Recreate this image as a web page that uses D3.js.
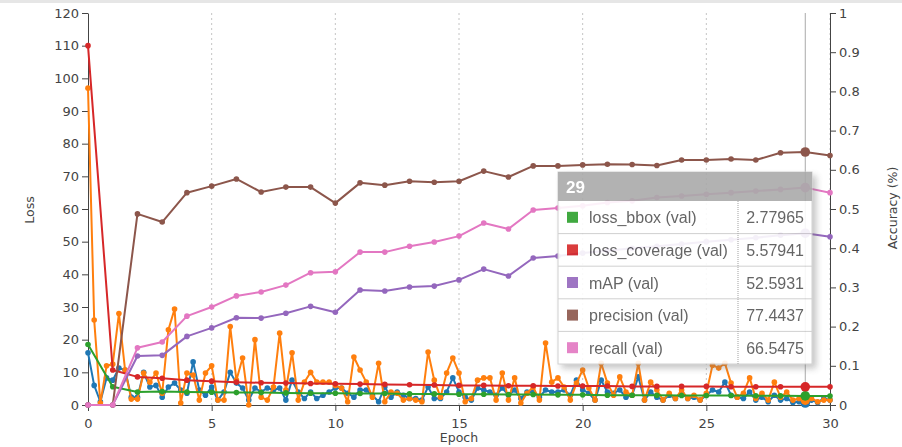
<!DOCTYPE html>
<html>
<head>
<meta charset="utf-8">
<script src="https://cdn.jsdelivr.net/npm/d3@7"></script>
<style>
  body { margin: 0; background: #fff; }
  svg { display: block; }
  .axis text { font-family: "DejaVu Sans", sans-serif; font-size: 13px; fill: #444; }
  .axis path, .axis line { stroke: #444; }
</style>
</head>
<body>
<svg id="chart" width="902" height="447"></svg>
<script>
// Validation epochs (one value per epoch)
const valEpochs = [0,1,2,3,4,5,6,7,8,9,10,11,12,13,14,15,16,17,18,19,20,21,22,23,24,25,26,27,28,29,30];

// Training losses are logged four times per epoch
const trainStep = 0.25;

const lossBboxTrain = [
  16, 6, 1, 8.3, 7.6, 11.3, 10.7, 2.4, 2.4, 10,
  5.5, 6, 2.4, 5.5, 6.7, 4.6, 3.6, 13.2, 4.6, 3,
  5.5, 1.5, 4, 10, 6.7, 5.2, 1.5, 5.2, 4, 5.2,
  4.6, 5.2, 1.5, 7.6, 4, 2, 4, 2, 3, 4,
  5.2, 5.2, 3.6, 2.4, 4.6, 4.6, 3, 1, 5.5, 2.4,
  4, 3, 2, 2, 1.5, 5.5, 2, 2, 4, 8.3,
  4, 2.4, 1.5, 5.2, 4.6, 4, 3, 5.2, 3, 4.6,
  2, 4, 4, 2.4, 4.6, 4, 4, 4.6, 3, 7.6,
  4.6, 3.6, 1.5, 7.6, 4, 3.6, 4.6, 2.4, 3, 8.6,
  1.5, 4, 2.4, 1.5, 3, 2, 3.6, 2, 2.4, 1.5,
  3, 4.6, 4, 7, 3, 2.4, 2, 4, 1.5, 2.4,
  1, 3, 1.5, 2, 0.8, 1, 0.6, 1.5, 0.8, 2,
  1.5
];

const lossCoverageTrain = [
  97, 26, 0.6, 12, 12.5, 28, 10.7, 1.8, 1.8, 9.8,
  7, 9.8, 3.6, 23, 29.4, 0.6, 9.8, 9.2, 1.5, 9.8,
  12, 1.5, 1.5, 24, 7.6, 14.4, 0, 20, 2.4, 1.5,
  5.5, 22, 4.6, 16, 1.5, 7, 10, 7, 7, 7,
  6, 5.2, 1, 14.7, 10.7, 7, 2.4, 12.8, 1, 4,
  3.6, 1.5, 2, 1.5, 1, 16.2, 7.6, 2.4, 9.8, 14.4,
  9.8, 1, 2, 7.6, 8.3, 8.3, 1.5, 9.8, 1.5, 8.3,
  0.6, 3.6, 5.5, 1.5, 19, 7, 8.3, 5.5, 1.5, 6.7,
  10.7, 5.2, 1.5, 12.8, 6.7, 3, 8.6, 4, 3, 12.8,
  1.5, 7, 4.6, 1.5, 3.6, 2, 4.6, 2, 3, 1.5,
  3.6, 12.2, 11.3, 12.8, 6.7, 2.4, 3.6, 8.3, 2, 3.6,
  1.5, 7, 2.4, 4, 1.5, 2, 1.5, 2, 1, 1.5,
  1.5
];

const lossBboxVal = [18.5, 5.6, 4.0, 4.1, 4.0, 3.9, 3.8, 3.8, 3.7, 3.6, 3.6, 3.5, 3.5, 3.4, 3.4, 3.3, 3.3, 3.2, 3.2, 3.1, 3.1, 3.0, 3.0, 3.0, 2.9, 2.9, 2.9, 2.85, 2.8, 2.77965, 2.75];
const lossCoverageVal = [110, 10.7, 8.6, 8.2, 7.6, 7.3, 7.0, 6.8, 6.7, 6.6, 6.5, 6.4, 6.3, 6.2, 6.1, 6.0, 6.0, 5.9, 5.9, 5.8, 5.8, 5.8, 5.7, 5.7, 5.7, 5.7, 5.6, 5.6, 5.6, 5.57941, 5.55];
const mapVal = [0, 0, 15, 15.2, 21, 23.6, 26.7, 26.6, 28.1, 30.2, 28.4, 35.2, 34.9, 36.1, 36.4, 38.3, 41.6, 39.5, 45, 45.6, 46.5, 47.2, 48, 48.6, 49.3, 50, 50.6, 51.2, 52, 52.5931, 51.5];
const precisionVal = [0, 0, 58.5, 56, 65, 67, 69.2, 65.2, 66.7, 66.7, 61.8, 68, 67.3, 68.5, 68.2, 68.5, 71.6, 69.8, 73.2, 73.2, 73.5, 73.7, 73.6, 73.3, 75, 75, 75.3, 75, 77.2, 77.4437, 76.4];
const recallVal = [0, 0, 17.5, 19.3, 27.2, 30, 33.4, 34.6, 36.7, 40.5, 40.8, 46.8, 46.8, 48.6, 49.9, 51.7, 55.7, 53.9, 59.7, 60.3, 61, 62, 62.5, 63.5, 64, 64.5, 65, 65.5, 66, 66.5475, 65];

const lossTicks = [0, 10, 20, 30, 40, 50, 60, 70, 80, 90, 100, 110, 120];
const accuracyTicks = [0, 0.1, 0.2, 0.3, 0.4, 0.5, 0.6, 0.7, 0.8, 0.9, 1];
const epochTicks = [0, 5, 10, 15, 20, 25, 30];
const focusEpoch = 29;

const trainSeries = [
  { name: "loss_bbox (train)", color: "#1f77b4", values: lossBboxTrain },
  { name: "loss_coverage (train)", color: "#ff7f0e", values: lossCoverageTrain }
];
const valSeries = [
  { name: "loss_bbox (val)", color: "#2ca02c", values: lossBboxVal },
  { name: "loss_coverage (val)", color: "#d62728", values: lossCoverageVal },
  { name: "mAP (val)", color: "#9467bd", values: mapVal },
  { name: "precision (val)", color: "#8c564b", values: precisionVal },
  { name: "recall (val)", color: "#e377c2", values: recallVal }
];

const svg = d3.select("#chart");

const x = d3.scaleLinear().domain([0, 30]).range([88, 830]);
const yLoss = d3.scaleLinear().domain([0, 120]).range([405, 13]);
const yAcc = d3.scaleLinear().domain([0, 1]).range([405, 13]);

// thin grey strip along the top edge
svg.append("rect").attr("x", 0).attr("y", 0).attr("width", 902).attr("height", 3).attr("fill", "#e6e6e6");

// vertical dotted grid
svg.append("g").selectAll("line").data(epochTicks.filter(d => d > 0)).join("line")
  .attr("x1", d => x(d)).attr("x2", d => x(d))
  .attr("y1", yLoss(120)).attr("y2", yLoss(0))
  .attr("stroke", "#c4c4c4").attr("stroke-dasharray", "2,3");

// focus line
svg.append("line")
  .attr("x1", x(focusEpoch)).attr("x2", x(focusEpoch))
  .attr("y1", yLoss(120)).attr("y2", yLoss(0))
  .attr("stroke", "#aaa").attr("stroke-width", 1);

// axes
const gx = svg.append("g").attr("class", "axis").attr("transform", `translate(0,${yLoss(0)})`)
  .call(d3.axisBottom(x).tickValues(epochTicks).tickSizeOuter(0).tickFormat(d3.format("d")));
gx.selectAll("text").attr("dy", "1.05em");

svg.append("g").attr("class", "axis").attr("transform", `translate(${x(0)},0)`)
  .call(d3.axisLeft(yLoss).tickValues(lossTicks).tickSizeOuter(0));

svg.append("g").attr("class", "axis").attr("transform", `translate(${x(30)},0)`)
  .call(d3.axisRight(yAcc).tickValues(accuracyTicks).tickSizeOuter(0).tickFormat(d => d3.format("~g")(d)));

// axis titles
const titleFont = { family: "DejaVu Sans, sans-serif", size: "12.5px", fill: "#444" };
svg.append("text").attr("transform", "translate(34,210) rotate(-90)")
  .attr("text-anchor", "middle").attr("font-family", titleFont.family).attr("font-size", titleFont.size)
  .attr("fill", titleFont.fill).text("Loss");
svg.append("text").attr("transform", "translate(897,208) rotate(-90)")
  .attr("text-anchor", "middle").attr("font-family", titleFont.family).attr("font-size", titleFont.size)
  .attr("fill", titleFont.fill).text("Accuracy (%)");
svg.append("text").attr("x", 459).attr("y", 442)
  .attr("text-anchor", "middle").attr("font-family", titleFont.family).attr("font-size", titleFont.size)
  .attr("fill", titleFont.fill).text("Epoch");

// series
const plot = svg.append("g");
const trainLine = d3.line().x((d, i) => x(i * trainStep)).y(d => yLoss(d));
const valLine = d3.line().x((d, i) => x(valEpochs[i])).y(d => yLoss(d));

function drawSeries(s, lineGen, xAt) {
  const g = plot.append("g");
  g.append("path").datum(s.values).attr("d", lineGen)
    .attr("fill", "none").attr("stroke", s.color).attr("stroke-width", 2).attr("stroke-linejoin", "round");
  g.selectAll("circle").data(s.values).join("circle")
    .attr("cx", (d, i) => x(xAt(i))).attr("cy", d => yLoss(d))
    .attr("r", (d, i) => xAt(i) === focusEpoch ? 4.8 : 2.8)
    .attr("fill", s.color);
}
trainSeries.forEach(s => drawSeries(s, trainLine, i => i * trainStep));
valSeries.forEach(s => drawSeries(s, valLine, i => valEpochs[i]));

// tooltip for the focused epoch
const tip = { x: 558, y: 172, w: 254, head: 29, row: 32.6, split: 738 };
const defs = svg.append("defs");
const f = defs.append("filter").attr("id", "tipShadow").attr("x", "-10%").attr("y", "-10%").attr("width", "130%").attr("height", "130%");
f.append("feDropShadow").attr("dx", 4).attr("dy", 4).attr("stdDeviation", 3).attr("flood-color", "#777").attr("flood-opacity", 0.45);

const tg = svg.append("g").attr("opacity", 0.9);
const fi = valEpochs.indexOf(focusEpoch);
const tipH = tip.head + tip.row * valSeries.length;
tg.append("rect").attr("x", tip.x).attr("y", tip.y).attr("width", tip.w).attr("height", tipH)
  .attr("fill", "#fff").attr("stroke", "#ccc").attr("filter", "url(#tipShadow)");
tg.append("rect").attr("x", tip.x).attr("y", tip.y).attr("width", tip.w).attr("height", tip.head).attr("fill", "#aaa");
tg.append("text").attr("x", tip.x + 8).attr("y", tip.y + tip.head / 2 + 6)
  .attr("font-family", "Liberation Sans, Arial, sans-serif").attr("font-size", "17px").attr("font-weight", "bold")
  .attr("fill", "#fff").text(focusEpoch);

valSeries.forEach((s, k) => {
  const top = tip.y + tip.head + k * tip.row;
  const cy = top + tip.row / 2;
  if (k > 0) {
    tg.append("line").attr("x1", tip.x).attr("x2", tip.x + tip.w).attr("y1", top).attr("y2", top).attr("stroke", "#ccc");
  }
  tg.append("rect").attr("x", tip.x + 9).attr("y", cy - 5.5).attr("width", 11).attr("height", 11).attr("fill", s.color);
  tg.append("text").attr("x", tip.x + 31).attr("y", cy + 6)
    .attr("font-family", "Liberation Sans, Arial, sans-serif").attr("font-size", "16px").attr("fill", "#555")
    .text(s.name);
  tg.append("text").attr("x", tip.x + tip.w - 8).attr("y", cy + 6).attr("text-anchor", "end")
    .attr("font-family", "Liberation Sans, Arial, sans-serif").attr("font-size", "16px").attr("fill", "#555")
    .text(s.values[fi]);
});
tg.append("line").attr("x1", tip.split).attr("x2", tip.split)
  .attr("y1", tip.y + tip.head).attr("y2", tip.y + tipH)
  .attr("stroke", "#999").attr("stroke-dasharray", "1,1");
</script>
</body>
</html>
